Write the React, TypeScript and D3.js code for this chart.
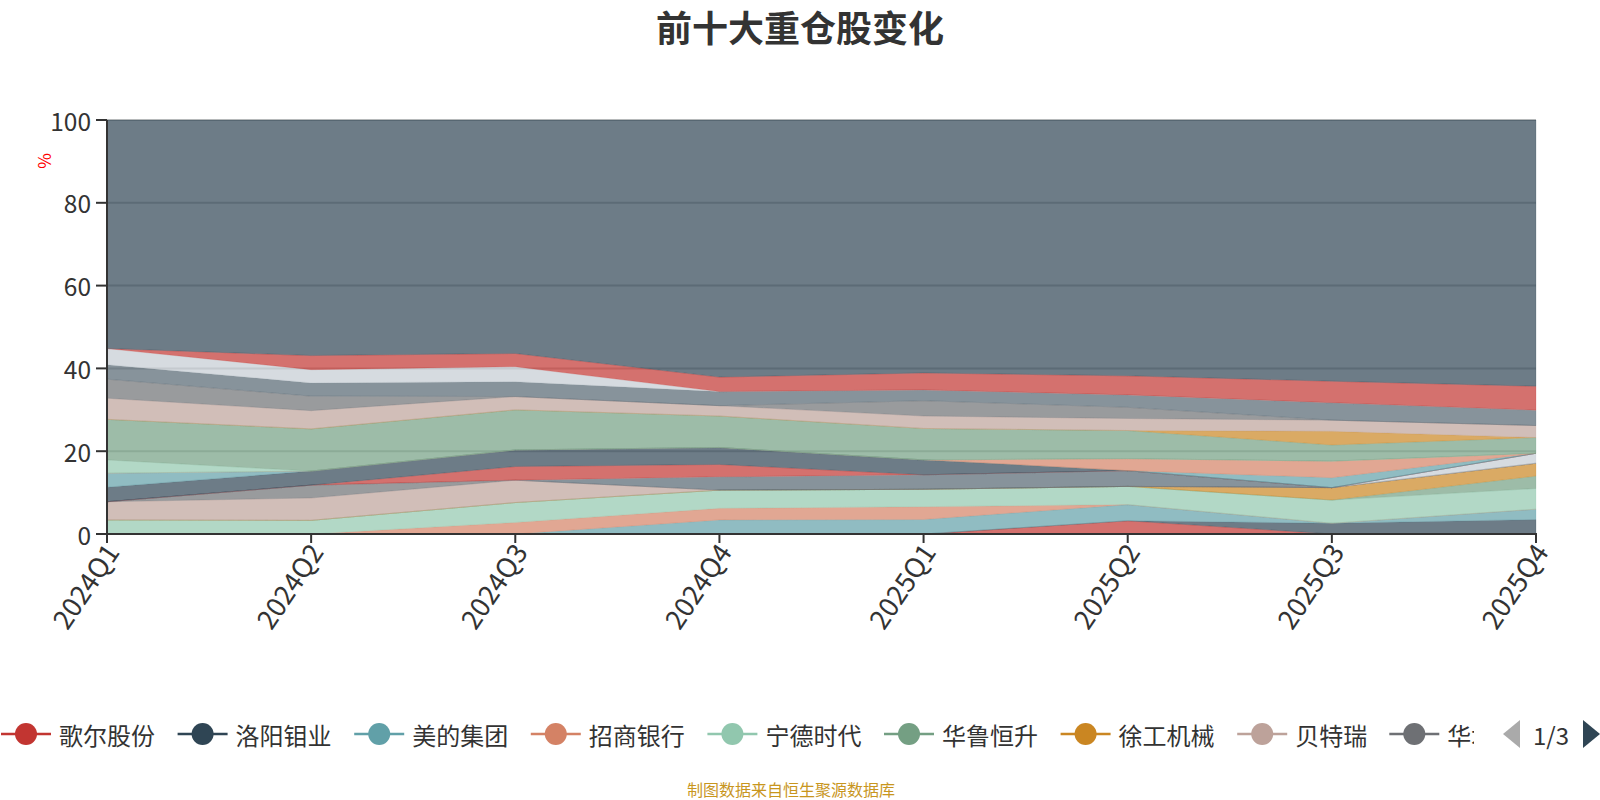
import * as d3 from 'd3';

const quarters = ['2024Q1', '2024Q2', '2024Q3', '2024Q4', '2025Q1', '2025Q2', '2025Q3', '2025Q4'];

const names = [
  '歌尔股份', '洛阳钼业', '美的集团', '招商银行', '宁德时代', '华鲁恒升', '徐工机械', '贝特瑞',
  '华域汽车', '中国巨石', '万华化学', '三一重工', '潍柴动力', '海尔智家', '中国平安', '隆基绿能',
  '紫金矿业', '中联重科', '立讯精密', '中国建筑', '福耀玻璃', '长江电力', '比亚迪', '其他',
];

// holding weight (%) per quarter, in stacking order
const weights: number[][] = [
  [0, 0, 0, 0, 0, 3.2, 0, 0],
  [0, 0, 0, 0, 0, 0, 2.6, 3.5],
  [0, 0, 0, 3.4, 3.5, 3.9, 0, 2.5],
  [0, 0, 2.8, 2.8, 3.1, 0, 0, 0],
  [3.4, 3.3, 4.8, 4.4, 4.2, 4.4, 5.6, 5.0],
  [0, 0, 0, 0, 0, 0, 0, 3.0],
  [0, 0, 0, 0, 0, 0, 3.0, 3.1],
  [4.4, 5.4, 5.4, 0, 0, 0, 0, 0],
  [0, 3.1, 0, 0, 0, 0, 0, 0],
  [0, 0, 0, 3.2, 3.5, 3.8, 0, 0],
  [0, 0, 0, 0, 0, 0, 0, 2.4],
  [0, 0, 3.3, 3.0, 0, 0, 0, 0],
  [3.5, 3.4, 4.0, 4.1, 3.6, 0, 0, 0],
  [3.4, 0, 0, 0, 0, 0, 2.4, 0],
  [0, 0, 0, 0, 0, 2.9, 4.0, 0],
  [3.2, 0, 0, 0, 0, 0, 0, 0],
  [9.8, 10.2, 9.7, 7.6, 7.6, 6.8, 3.9, 3.8],
  [0, 0, 0, 0, 0, 0, 3.3, 0],
  [5.1, 4.4, 3.2, 2.5, 3.0, 2.9, 2.7, 2.9],
  [4.6, 3.5, 0, 0, 3.7, 2.7, 0, 0],
  [3.5, 3.2, 3.6, 3.4, 2.6, 3.0, 4.2, 3.7],
  [3.9, 3.2, 3.6, 0, 0, 0, 0, 0],
  [0, 3.4, 3.2, 3.5, 4.1, 4.6, 5.2, 5.8],
  [55.2, 56.9, 56.4, 62.1, 61.1, 61.8, 63.1, 64.3],
];

const yTicks = [0, 20, 40, 60, 80, 100];

const palette = ['#c23531', '#2f4554', '#61a0a8', '#d48265', '#91c7ae', '#749f83', '#ca8622', '#bda29a', '#6e7074', '#546570', '#c4ccd3'];

const W = 1600;
const H = 800;
const left = 107;
const right = 1536;
const top = 120;
const bottom = 534;
const font = '"Noto Sans CJK SC", "Noto Sans", sans-serif';

const App = () => {
  const x = d3.scalePoint<string>().domain(quarters).range([left, right]);
  const y = d3.scaleLinear().domain([0, 100]).range([bottom, top]);

  const rows = quarters.map((q, i) => {
    const r: Record<string, number | string> = { q };
    names.forEach((n, k) => { r[n] = weights[k][i]; });
    return r;
  });
  const stacked = d3.stack<Record<string, number | string>>().keys(names)(rows);

  const area = d3.area<d3.SeriesPoint<Record<string, number | string>>>()
    .x((d) => x(d.data.q as string)!)
    .y0((d) => y(d[0]))
    .y1((d) => y(d[1]));

  const color = (i: number) => palette[i % palette.length];

  // legend, page 1 of 3 (the last item is cut off by the pager)
  const legendItems = names.slice(0, 9);
  let cursor = 1;
  const legendPos = legendItems.map((n) => {
    const p = cursor;
    cursor += 51 + 7 + n.length * 24.5 + 20.6;
    return p;
  });
  const legendY = 734;

  return (
    <svg width={W} height={H} style={{ position: 'absolute', left: 0, top: 0, fontFamily: font }}>
      <rect width={W} height={H} fill="#fff" />
      <text x={800} y={42} textAnchor="middle" fontSize={36} fontWeight="bold" fill="#333">前十大重仓股变化</text>

      {yTicks.slice(1).map((t) => (
        <line key={t} x1={left} x2={right} y1={y(t)} y2={y(t)} stroke="#c6c6c6" strokeWidth={2} />
      ))}

      {stacked.map((s, i) => (
        <path key={s.key} d={area(s) || ''} fill={color(i)} fillOpacity={0.7} stroke={color(i)} strokeOpacity={0.25} strokeWidth={0.8} />
      ))}

      <line x1={left} x2={left} y1={top} y2={bottom + 1} stroke="#333" strokeWidth={2} />
      {yTicks.map((t) => (
        <g key={t}>
          <line x1={left - 11} x2={left} y1={y(t)} y2={y(t)} stroke="#333" strokeWidth={2} />
          <text x={left - 16} y={y(t)} textAnchor="end" dominantBaseline="central" fontSize={24.5} fill="#333">{t}</text>
        </g>
      ))}
      <text transform={`translate(43,161) rotate(-90)`} textAnchor="middle" dominantBaseline="central" fontSize={17} fill="#ff0000">%</text>

      <line x1={left - 1} x2={right + 1} y1={bottom} y2={bottom} stroke="#333" strokeWidth={2} />
      {quarters.map((q) => (
        <g key={q}>
          <line x1={x(q)} x2={x(q)} y1={bottom} y2={bottom + 9} stroke="#333" strokeWidth={2} />
          <text transform={`translate(${x(q)! + 4},${bottom + 12}) rotate(-56)`} textAnchor="end" dominantBaseline="central" fontSize={27} fill="#333">{q}</text>
        </g>
      ))}

      <defs>
        <clipPath id="legend-clip">
          <rect x={0} y={700} width={1474} height={70} />
        </clipPath>
      </defs>
      <g clipPath="url(#legend-clip)">
        {legendItems.map((n, i) => (
          <g key={n} transform={`translate(${legendPos[i]},${legendY})`}>
            <line x1={0} x2={50} y1={0} y2={0} stroke={color(i)} strokeWidth={2.5} />
            <circle cx={25} cy={0} r={11} fill={color(i)} />
            <text x={58} y={0} dominantBaseline="central" fontSize={24} fill="#333">{i === 8 ? n.slice(0, 2) : n}</text>
          </g>
        ))}
      </g>
      <path d="M1520,720 L1503,734 L1520,748 Z" fill="#aaa" />
      <text x={1551} y={legendY} textAnchor="middle" dominantBaseline="central" fontSize={24} fill="#333">1/3</text>
      <path d="M1583,720 L1600,734 L1583,748 Z" fill="#2f4554" />

      <text x={791} y={789} textAnchor="middle" dominantBaseline="central" fontSize={16} fill="#c8961e">制图数据来自恒生聚源数据库</text>
    </svg>
  );
};

export default App;
